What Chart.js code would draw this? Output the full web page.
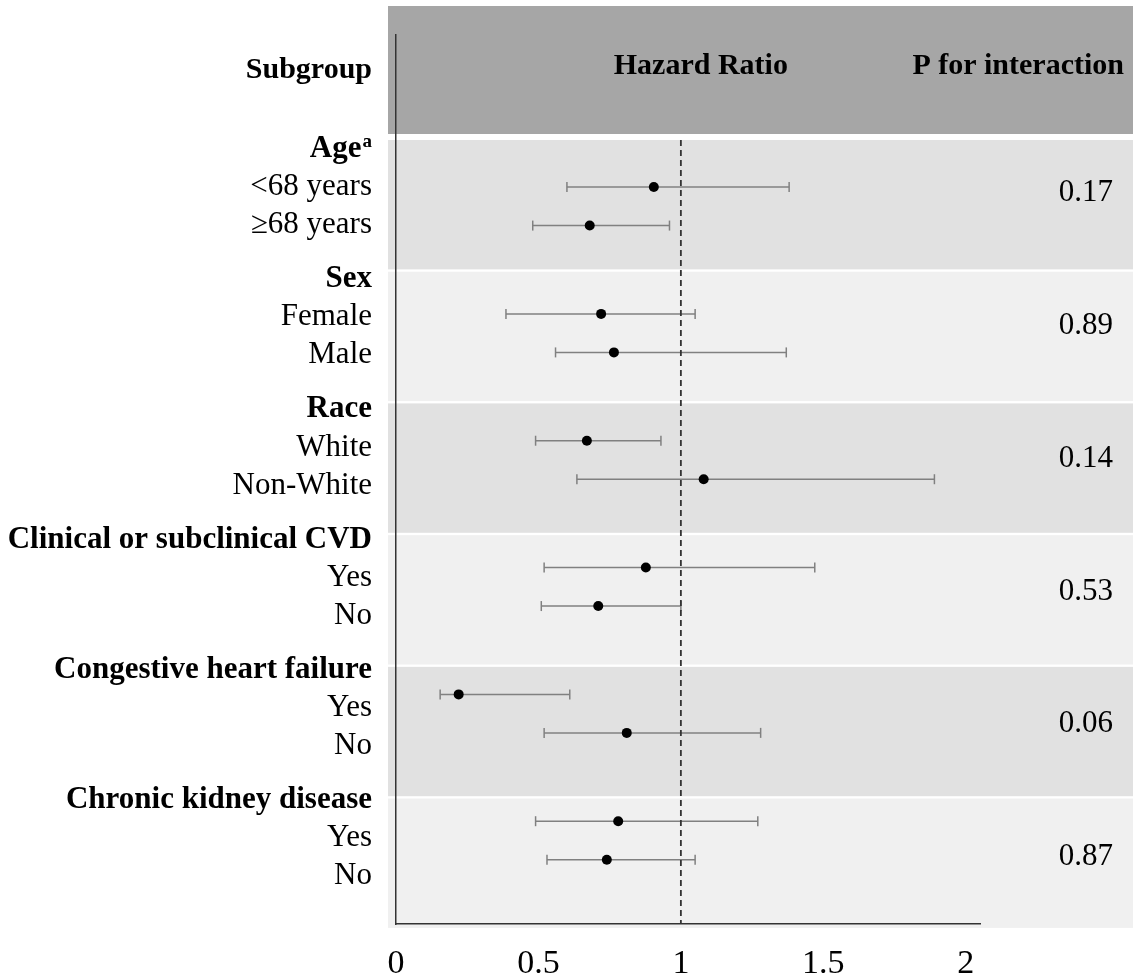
<!DOCTYPE html>
<html>
<head>
<meta charset="utf-8">
<script src="https://cdn.jsdelivr.net/npm/chart.js@4.4.0/dist/chart.umd.min.js"></script>
<style>
  body { margin: 0; background: #fff; }
  canvas { display: block; }
</style>
</head>
<body>
<canvas id="forest" width="1133" height="980"></canvas>
<script>
// subgroups and their levels
const groups = ['Age', 'Sex', 'Race', 'Clinical or subclinical CVD', 'Congestive heart failure', 'Chronic kidney disease'];
const levels = [
  ['<68 years', '\u226568 years'],
  ['Female', 'Male'],
  ['White', 'Non-White'],
  ['Yes', 'No'],
  ['Yes', 'No'],
  ['Yes', 'No']
];
// hazard ratio with 95% CI, one entry per level (in the same order as levels)
const hr    = [0.905, 0.68, 0.72, 0.765, 0.67, 1.08, 0.877, 0.71, 0.22, 0.81, 0.78, 0.74];
const lower = [0.60, 0.48, 0.386, 0.56, 0.49, 0.635, 0.52, 0.51, 0.155, 0.52, 0.49, 0.53];
const upper = [1.38, 0.96, 1.05, 1.37, 0.93, 1.89, 1.47, 1.00, 0.61, 1.28, 1.27, 1.05];
const pInteraction = ['0.17', '0.89', '0.14', '0.53', '0.06', '0.87'];
const xTicks = [0, 0.5, 1, 1.5, 2];

// layout in "line" units (one text line)
const Y_MAX = 23.09;
const rowY = (g, i) => 3.95 + g * 3.294 + i;
const labelY = (g, i) => 2.96 + g * 3.382 + (i < 0 ? 0 : 0.987 * (i + 1));
const pY = g => 4.104 + g * 3.449;
const bandTop = g => 2.727 + g * 3.421;
const BAND_H = 3.36;

const serif = '"Liberation Serif", "Times New Roman", serif';

const points = [];
const ciSets = [];
groups.forEach((g, gi) => {
  levels[gi].forEach((lv, li) => {
    const k = gi * 2 + li;
    const y = rowY(gi, li);
    points.push({ x: hr[k], y: y });
    ciSets.push({
      data: [{ x: lower[k], y: y }, { x: upper[k], y: y }],
      showLine: true,
      borderColor: '#808080',
      borderWidth: 1.5,
      pointStyle: 'line',
      rotation: 90,
      pointRadius: 5,
      pointBorderColor: '#808080',
      pointBorderWidth: 1.5,
      order: 2
    });
  });
});

const tablePlugin = {
  id: 'table',
  beforeDraw(chart) {
    const ctx = chart.ctx;
    const ys = chart.scales.y;
    const area = chart.chartArea;
    ctx.save();
    ctx.fillStyle = '#fff';
    ctx.fillRect(0, 0, chart.width, chart.height);

    const bx = area.left - 8;
    // header band
    ctx.fillStyle = '#a6a6a6';
    const hTop = ys.getPixelForValue(-0.753);
    const hBot = ys.getPixelForValue(2.571);
    ctx.fillRect(bx, hTop, chart.width - bx, hBot - hTop);
    // row bands
    groups.forEach((g, gi) => {
      const t = ys.getPixelForValue(bandTop(gi));
      const b = ys.getPixelForValue(bandTop(gi) + BAND_H);
      ctx.fillStyle = gi % 2 === 0 ? '#e1e1e1' : '#f0f0f0';
      ctx.fillRect(bx, t, chart.width - bx, b - t);
    });
    ctx.restore();
  },
  afterDraw(chart) {
    const ctx = chart.ctx;
    const ys = chart.scales.y;
    const xs = chart.scales.x;
    const labelX = chart.chartArea.left - 24;
    const headerY = (ys.getPixelForValue(-0.753) + ys.getPixelForValue(2.571)) / 2;
    ctx.save();
    ctx.fillStyle = '#000';
    ctx.textBaseline = 'middle';

    // column headers
    ctx.font = 'bold 30px ' + serif;
    ctx.textAlign = 'right';
    ctx.fillText('Subgroup', labelX, headerY);
    ctx.textAlign = 'center';
    ctx.fillText('Hazard Ratio', xs.getPixelForValue(1.07), headerY - 4);
    ctx.textAlign = 'right';
    ctx.fillText('P for interaction', chart.width - 9, headerY - 4);

    // subgroup labels
    groups.forEach((g, gi) => {
      const hy = ys.getPixelForValue(labelY(gi, -1));
      ctx.textAlign = 'right';
      if (gi === 0) {
        ctx.font = 'bold 19px ' + serif;
        const wa = ctx.measureText('a').width;
        ctx.fillText('a', labelX, hy - 7);
        ctx.font = 'bold 31px ' + serif;
        ctx.fillText(g, labelX - wa - 1, hy);
      } else {
        ctx.font = 'bold 31px ' + serif;
        ctx.fillText(g, labelX, hy);
      }
      ctx.font = '31px ' + serif;
      levels[gi].forEach((lv, li) => {
        ctx.fillText(lv, labelX, ys.getPixelForValue(labelY(gi, li)));
      });
      // p for interaction
      ctx.font = '31px ' + serif;
      ctx.fillText(pInteraction[gi], chart.width - 20, ys.getPixelForValue(pY(gi)));
    });
    ctx.restore();
  }
};

new Chart(document.getElementById('forest'), {
  type: 'scatter',
  data: {
    datasets: [
      {
        data: points,
        pointRadius: 5,
        pointBackgroundColor: '#000',
        pointBorderColor: '#000',
        pointBorderWidth: 0,
        order: 0
      },
      ...ciSets,
      {
        data: [{ x: 1, y: bandTop(0) }, { x: 1, y: Y_MAX }],
        showLine: true,
        borderColor: '#333',
        borderWidth: 1.8,
        borderDash: [6, 4],
        pointRadius: 0,
        order: 1
      }
    ]
  },
  options: {
    responsive: false,
    animation: false,
    devicePixelRatio: 1,
    layout: { padding: { left: 396, right: 153, top: 35, bottom: 0 } },
    plugins: { legend: { display: false }, tooltip: { enabled: false } },
    scales: {
      x: {
        type: 'linear',
        min: 0,
        max: 2.05,
        afterBuildTicks: s => { s.ticks = xTicks.map(v => ({ value: v })); },
        afterFit: s => { s.height = 56; },
        grid: { display: false, drawTicks: false },
        border: { display: true, color: '#333', width: 1.5 },
        ticks: {
          padding: 20,
          color: '#000',
          font: { family: serif, size: 34 },
          callback: v => String(v)
        }
      },
      y: {
        type: 'linear',
        reverse: true,
        min: 0,
        max: Y_MAX,
        afterFit: s => { s.width = 0; },
        grid: { display: false, drawTicks: false },
        border: { display: true, color: '#333', width: 1.5 },
        ticks: { display: false }
      }
    }
  },
  plugins: [tablePlugin]
});
</script>
</body>
</html>
